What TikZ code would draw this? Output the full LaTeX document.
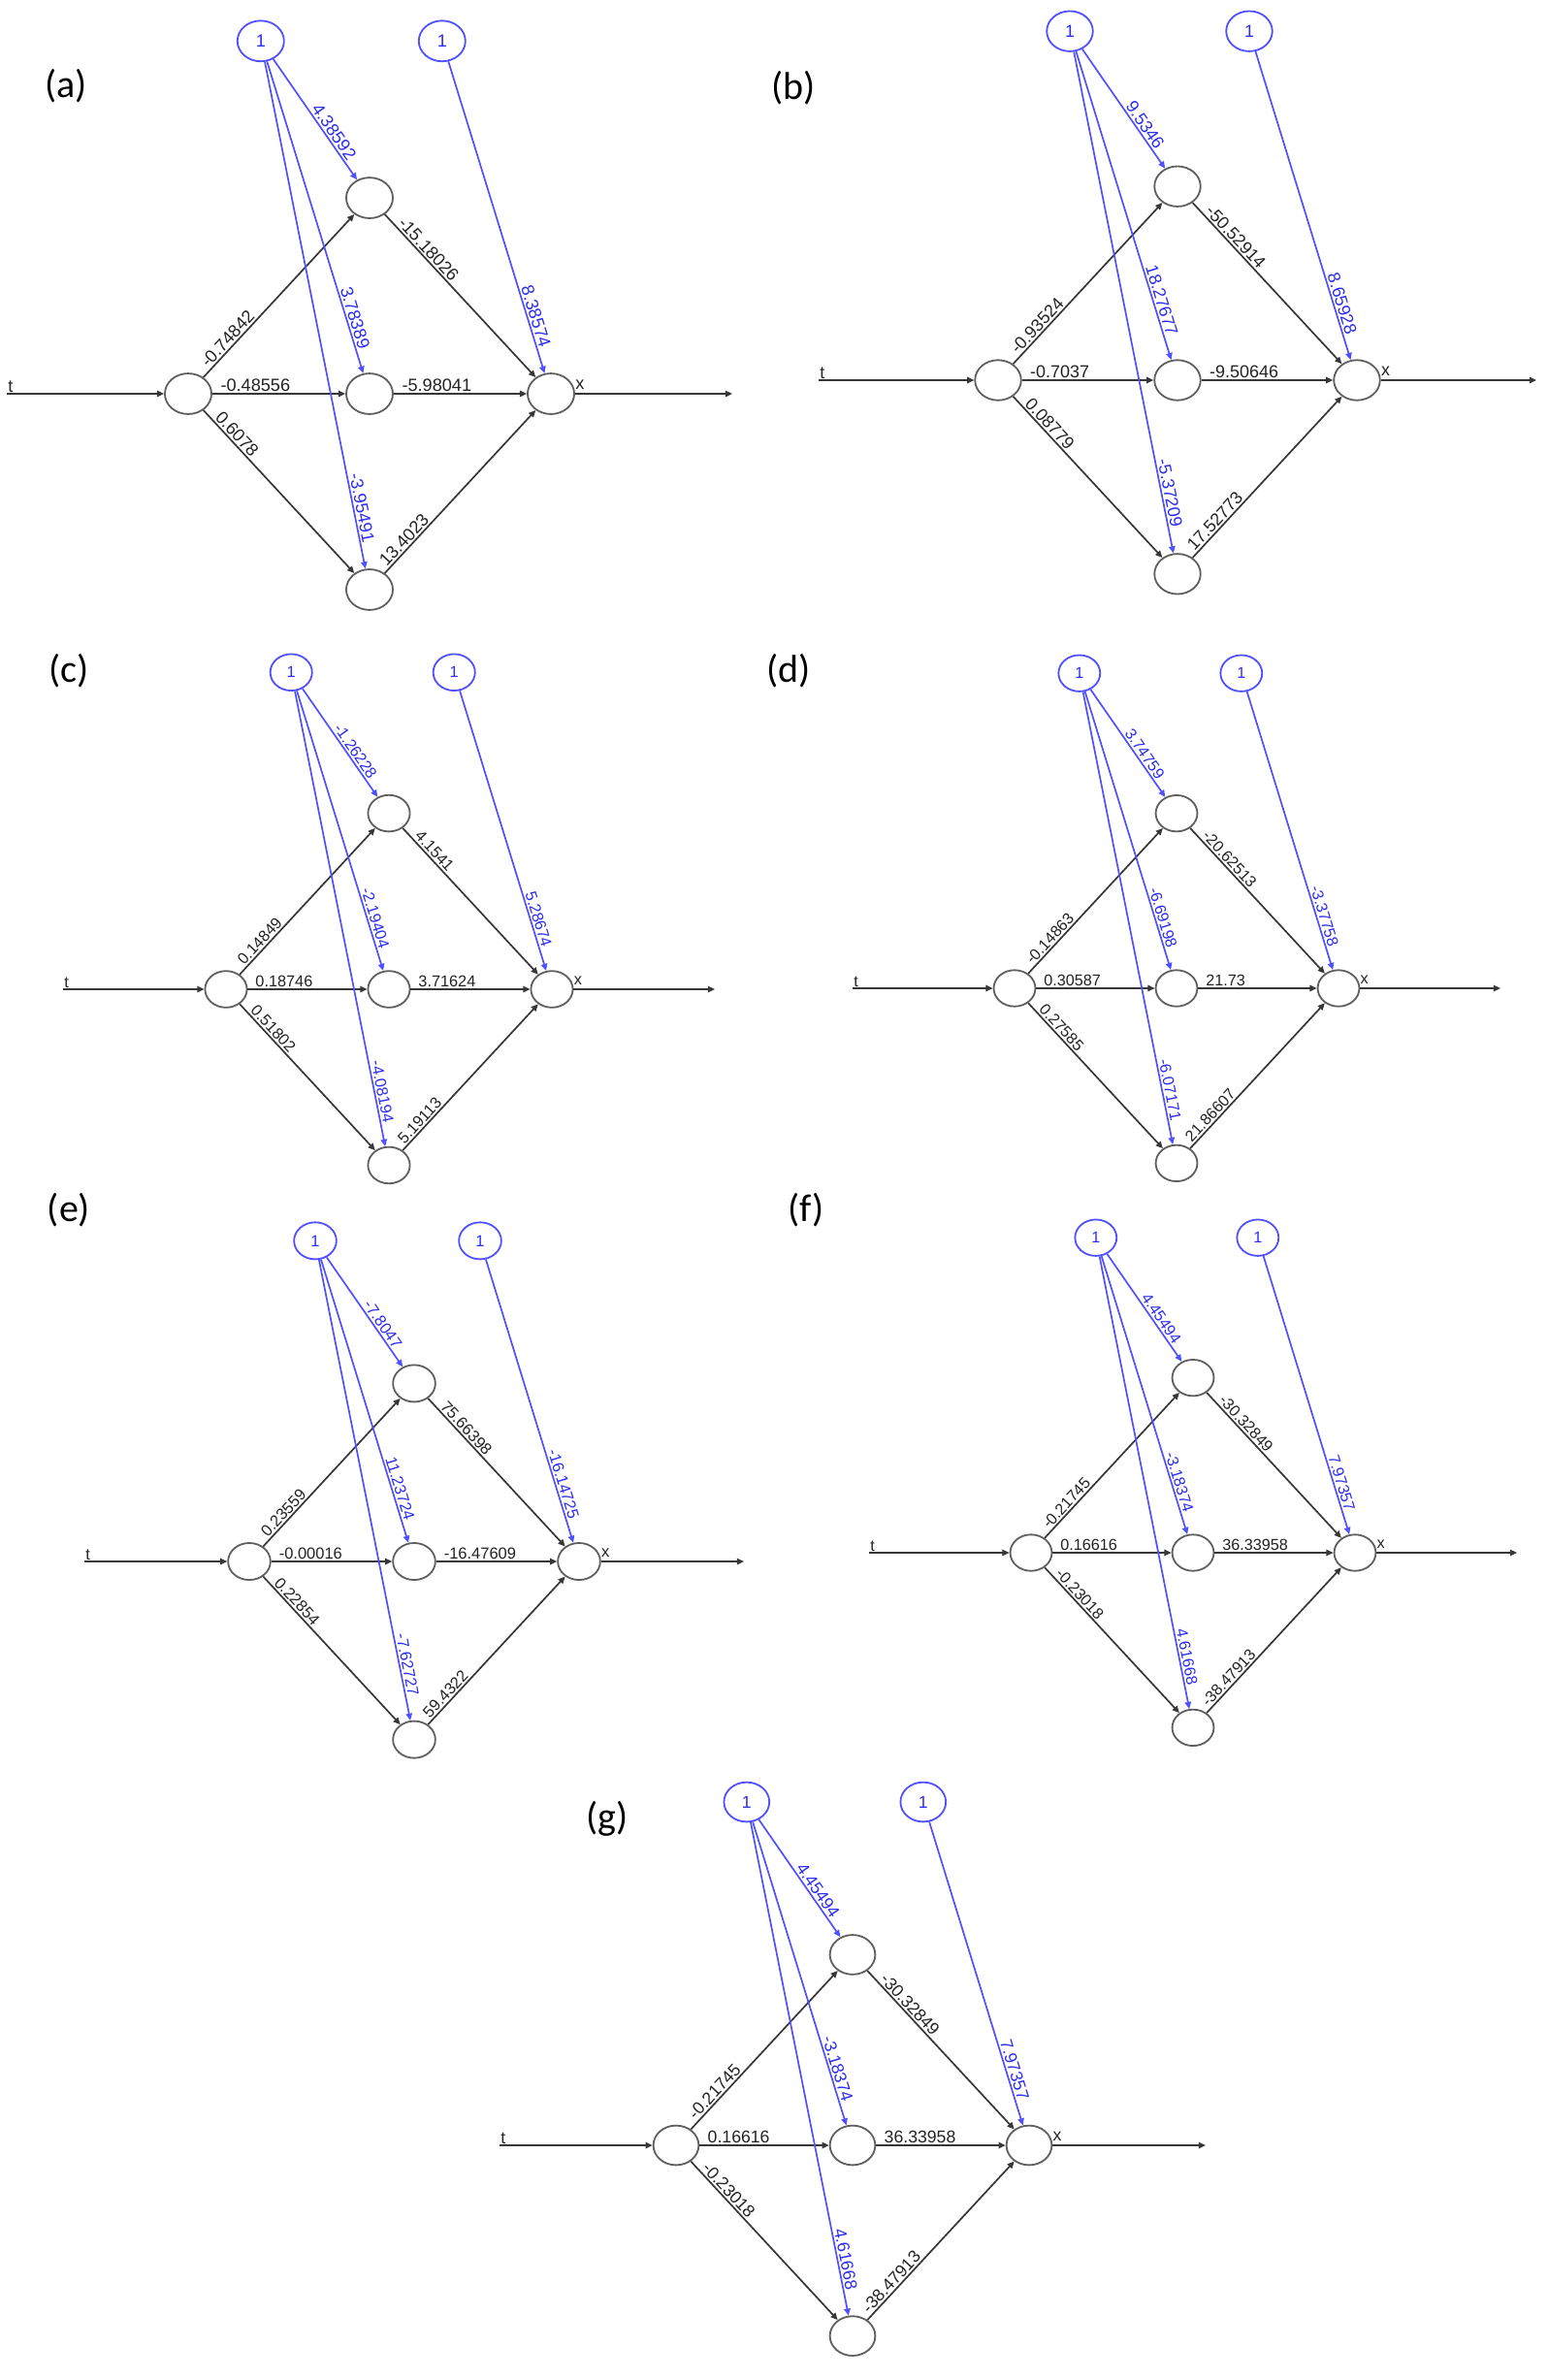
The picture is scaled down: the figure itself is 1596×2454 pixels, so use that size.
\documentclass[tikz,border=0pt]{standalone}
\usepackage{fontspec}
\setmainfont{Liberation Sans}
\newfontfamily\panelfont{Carlito}
\usetikzlibrary{shapes.geometric,arrows.meta}
\definecolor{edgeblack}{RGB}{55,55,55}
\definecolor{nodegray}{RGB}{95,95,95}
\definecolor{biasblue}{RGB}{80,80,255}
\definecolor{labelblue}{RGB}{45,45,240}
\definecolor{labelblack}{RGB}{35,35,35}
\begin{document}
\begin{tikzpicture}[x=0.5pt,y=-0.5pt,
  neuron/.style={ellipse, draw=nodegray, line width=0.9pt, inner sep=0pt,
    minimum width=\nw pt, minimum height=\nh pt},
  biasnode/.style={ellipse, draw=biasblue, line width=0.9pt, inner sep=0pt,
    minimum width=\nw pt, minimum height=\nh pt, text=labelblue, font=\wfont},
  wire/.style={draw=edgeblack, line width=0.85pt, -{Triangle[length=3.6pt,width=3.2pt]}},
  biaswire/.style={draw=biasblue, line width=0.85pt, -{Triangle[length=3.6pt,width=3.2pt]}},
  wlab/.style={sloped, font=\wfont, text=labelblack, inner sep=0.8pt, anchor=south west},
  blab/.style={sloped, font=\wfont, text=labelblue, inner sep=0.8pt, anchor=south east},
  plainlab/.style={font=\wfont, text=labelblack, inner sep=0.5pt},
  panellab/.style={font=\panelfont\fontsize{20}{24}\selectfont, text=black, inner sep=0pt}
]
\fill[white] (0,0) rectangle (1596,2454);
\useasboundingbox (0,0) rectangle (1596,2454);
\foreach \pid/\inX/\inY/\spc/\lbX/\lbY/\lbT/\wA/\wB/\wC/\wD/\wE/\wF/\wG/\wH/\wI/\wJ in {
 a/194/406/187/68/89/a/-0.74842/-0.48556/0.6078/-15.18026/-5.98041/13.4023/4.38592/3.78389/-3.95491/8.38574,
 b/1029/392/185/818/91/b/-0.93524/-0.7037/0.08779/-50.52914/-9.50646/17.52773/9.5346/18.27677/-5.37209/8.65928,
 c/233/1020/168/71/692/c/0.14849/0.18746/0.51802/4.1541/3.71624/5.19113/-1.26228/-2.19404/-4.08194/5.28674,
 d/1046/1019/167/813/692/d/-0.14863/0.30587/0.27585/-20.62513/21.73/21.86607/3.74759/-6.69198/-6.07171/-3.37758,
 e/257/1610/170/71/1248/e/0.23559/-0.00016/0.22854/75.66398/-16.47609/59.4322/-7.8047/11.23724/-7.62727/-16.14725,
 f/1063/1601/167/831/1248/f/-0.21745/0.16616/-0.23018/-30.32849/36.33958/-38.47913/4.45494/-3.18374/4.61668/7.97357,
 g/697/2212/182/626/1875/g/-0.21745/0.16616/-0.23018/-30.32849/36.33958/-38.47913/4.45494/-3.18374/4.61668/7.97357}{
  \pgfmathsetmacro\vsp{1.08*\spc}
  \pgfmathsetmacro\nw{0.1285*\spc}
  \pgfmathsetmacro\nh{0.112*\spc}
  \pgfmathsetmacro\fsz{0.0485*\spc}
  \pgfmathsetmacro\bdy{1.945*\spc}
  \pgfmathsetmacro\bdx{0.4*\spc}
  \def\wfont{\fontsize{\fsz}{\fsz}\selectfont}
  % panel label
  \node[panellab] (\pid-lab) at (\lbX,\lbY) {(\lbT)};
  % neurons
  \node[neuron] (\pid-in) at (\inX,\inY) {};
  \node[neuron] (\pid-h1) at (\inX+\spc,\inY-\vsp) {};
  \node[neuron] (\pid-h2) at (\inX+\spc,\inY) {};
  \node[neuron] (\pid-h3) at (\inX+\spc,\inY+\vsp) {};
  \node[neuron] (\pid-out) at (\inX+2*\spc,\inY) {};
  % bias nodes
  \node[biasnode] (\pid-b1) at (\inX+\bdx,\inY-\bdy) {1};
  \node[biasnode] (\pid-b2) at (\inX+\spc+\bdx,\inY-\bdy) {1};
  % input / output ends
  \coordinate (\pid-start) at (\inX-\spc,\inY);
  \coordinate (\pid-end) at (\inX+3*\spc,\inY);
  \node[plainlab, anchor=south west] (\pid-t) at (\pid-start) {t};
  \node[plainlab] (\pid-x) at (\inX+2.16*\spc,\inY-0.05*\spc) {x};
  % black connectors
  \draw[wire] (\pid-start) -- (\pid-in);
  \draw[wire] (\pid-in) -- (\pid-h1) node[wlab, pos=0.035] {\wA};
  \draw[wire] (\pid-in) -- (\pid-h2) node[wlab, pos=0.045] {\wB};
  \draw[wire] (\pid-in) -- (\pid-h3) node[wlab, pos=0.05] {\wC};
  \draw[wire] (\pid-h1) -- (\pid-out) node[wlab, pos=0.06] {\wD};
  \draw[wire] (\pid-h2) -- (\pid-out) node[wlab, pos=0.045] {\wE};
  \draw[wire] (\pid-h3) -- (\pid-out) node[wlab, pos=0.015] {\wF};
  \draw[wire] (\pid-out) -- (\pid-end);
  % blue bias connectors
  \draw[biaswire] (\pid-b1) -- (\pid-h1) node[blab, pos=0.875] {\wG};
  \draw[biaswire] (\pid-b1) -- (\pid-h2) node[blab, pos=0.935] {\wH};
  \draw[biaswire] (\pid-b1) -- (\pid-h3) node[blab, pos=0.955] {\wI};
  \draw[biaswire] (\pid-b2) -- (\pid-out) node[blab, pos=0.93] {\wJ};
}
\end{tikzpicture}
\end{document}
